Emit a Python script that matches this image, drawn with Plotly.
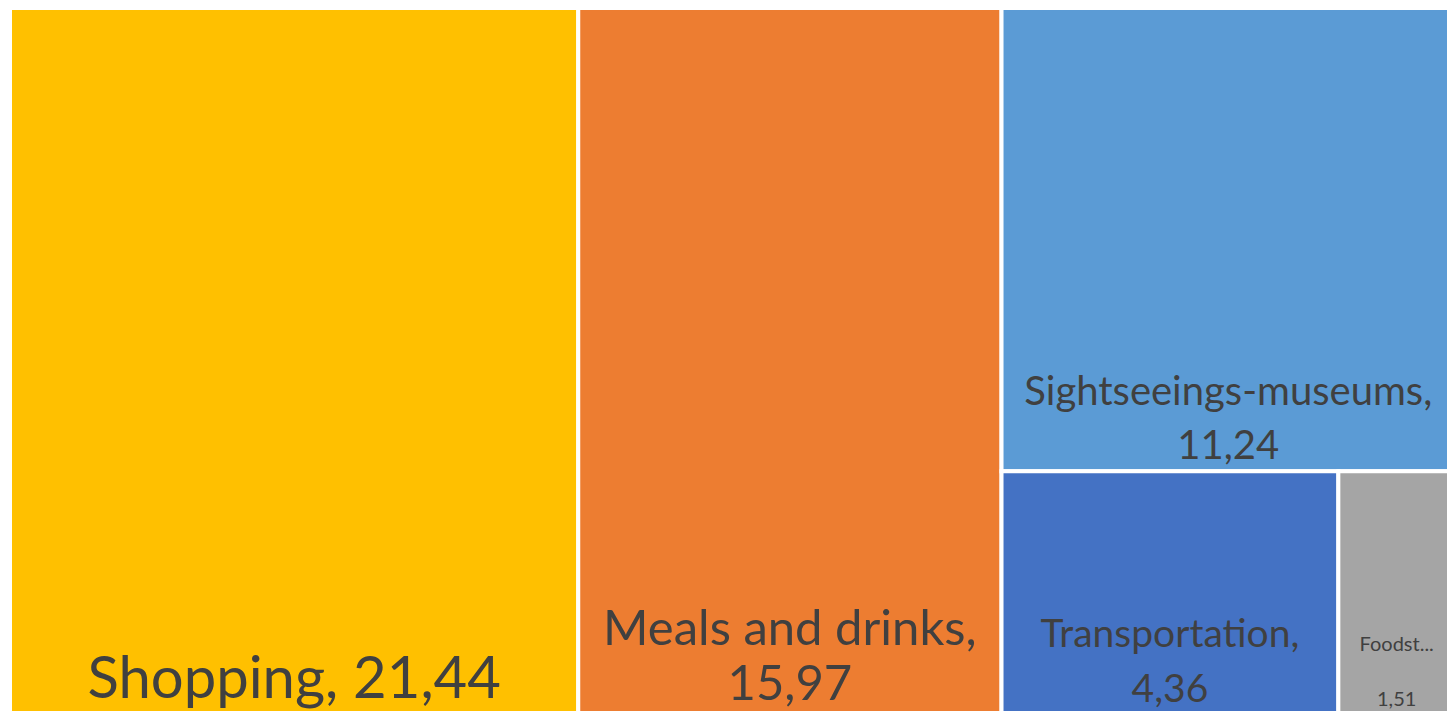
import plotly.graph_objects as go

categories = ["Shopping", "Meals and drinks", "Sightseeings-museums", "Transportation", "Foodstuffs"]
shown_labels = ["Shopping", "Meals and drinks", "Sightseeings-museums", "Transportation", "Foodst..."]
values = [21.44, 15.97, 11.24, 4.36, 1.51]
colors = ["#FFC000", "#ED7D31", "#5B9BD5", "#4472C4", "#A5A5A5"]
font_sizes = [58, 49, 40, 39, 20]
label_value_joins = [", ", ",<br>", ",<br>", ",<br>", "<br>"]

templates = [
    '<span style="font-size:%dpx">%%{customdata}%s%%{value:.2f}</span>' % (fs, j)
    for fs, j in zip(font_sizes, label_value_joins)
]

fig = go.Figure(
    go.Treemap(
        labels=categories,
        parents=[""] * len(categories),
        values=values,
        customdata=shown_labels,
        marker=dict(
            colors=colors,
            line=dict(color="white", width=4),
            pad=dict(t=0, l=0, r=0, b=0),
        ),
        tiling=dict(pad=0),
        texttemplate=templates,
        textposition="bottom center",
        textfont=dict(family="Lato", size=42, color="#404040"),
        pathbar=dict(visible=False),
    )
)

fig.update_layout(
    width=1447,
    height=705,
    margin=dict(l=2, r=0, t=0, b=0),
    separators=",.",
    paper_bgcolor="white",
)

fig.write_html("out.html")
